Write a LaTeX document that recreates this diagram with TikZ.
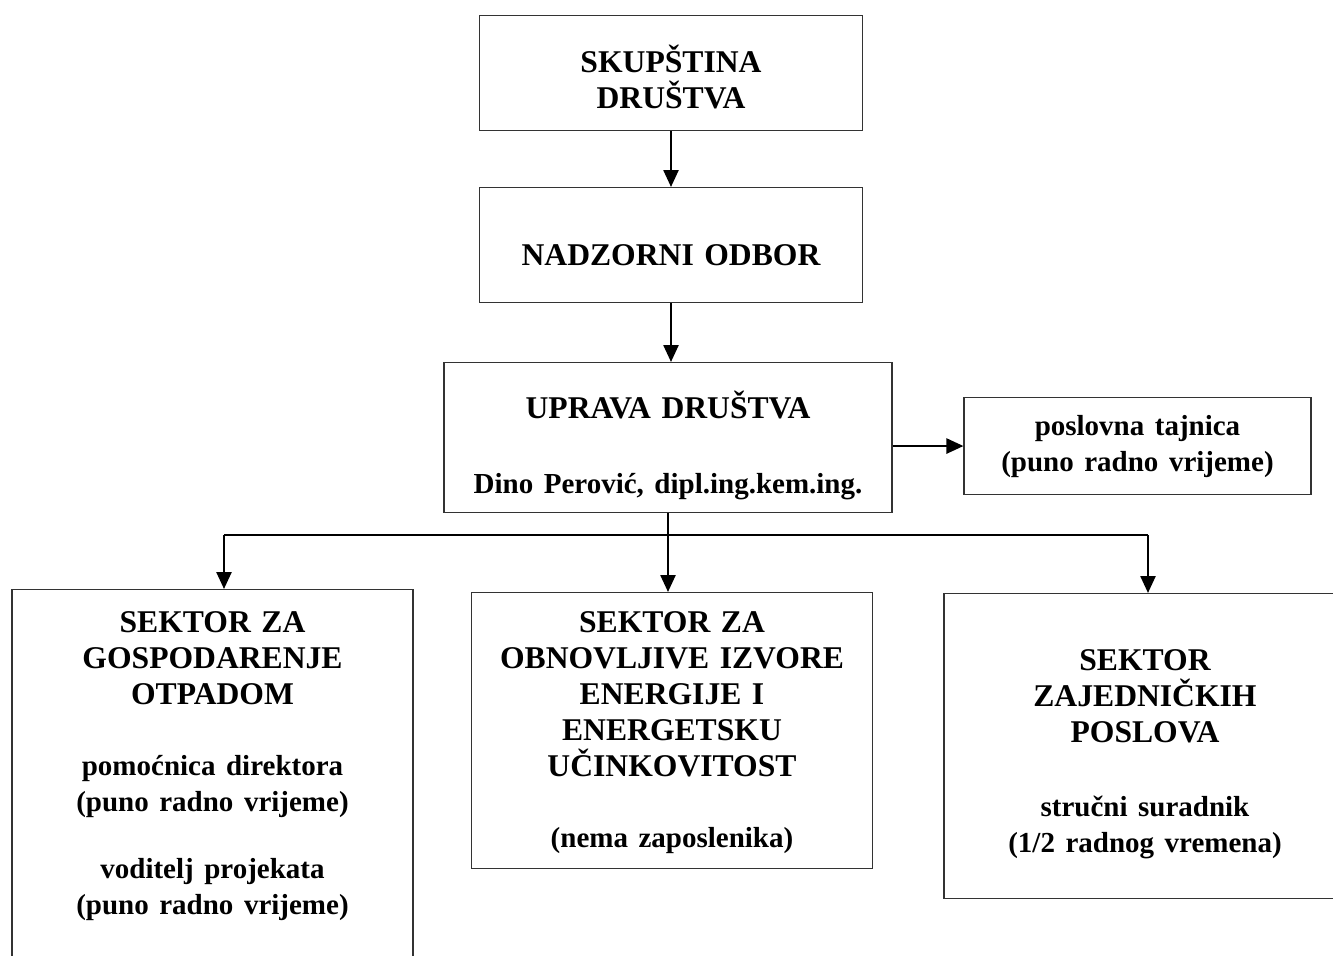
\documentclass[tikz,border=0pt]{standalone}
\usepackage{fontspec}
\setmainfont{Liberation Serif}
\usetikzlibrary{arrows.meta}

\newcommand\capsfont{\fontsize{18}{20.5}\selectfont}
\newcommand\lowfont{\fontsize{16.5}{20.5}\selectfont}

\begin{document}
\begin{tikzpicture}[
    box/.style={draw=black!80, line width=0.6pt, inner sep=0pt, anchor=north,
      align=center, font=\bfseries\capsfont},
    arr/.style={-{Triangle[length=0.34cm, width=0.3cm]}, line width=1.4pt},
    link/.style={line width=0.8pt}]
  \useasboundingbox (0,0) rectangle (26.66,-19.10);
  \clip (0,0) rectangle (26.66,-19.10);

  \node[box, text width=7.66cm, text height=1.14cm, text depth=1.16cm] (skupstina) at (13.42,-0.30) {SKUPŠTINA\\DRUŠTVA};
  \node[box, text width=7.66cm, text height=1.56cm, text depth=0.74cm] (nadzor) at (13.42,-3.74) {NADZORNI ODBOR};
  \node[box, text width=8.96cm, text height=1.12cm, text depth=1.88cm] (uprava) at (13.36,-7.24)
    {UPRAVA DRUŠTVA\\[22pt]\lowfont Dino Perović, dipl.ing.kem.ing.};
  \node[box, text width=6.94cm, text height=0.76cm, text depth=1.18cm] (tajnica) at (22.75,-7.94)
    {\lowfont poslovna tajnica\\(puno radno vrijeme)};

  \node[box, text width=8.02cm, text height=0.86cm, text depth=7.36cm] (otpad) at (4.25,-11.78)
    {SEKTOR ZA\\GOSPODARENJE\\OTPADOM\\[19.7pt]\lowfont pomoćnica direktora\\(puno radno vrijeme)\\[17.5pt]voditelj projekata\\(puno radno vrijeme)};
  \node[box, text width=8.02cm, text height=0.80cm, text depth=4.72cm] (izvori) at (13.44,-11.84)
    {SEKTOR ZA\\OBNOVLJIVE IZVORE\\ENERGIJE I\\ENERGETSKU\\UČINKOVITOST\\[19.7pt]\lowfont (nema zaposlenika)};
  \node[box, text width=8.04cm, text height=1.54cm, text depth=4.56cm] (zajednicki) at (22.90,-11.86)
    {SEKTOR\\ZAJEDNIČKIH\\POSLOVA\\[21.5pt]\lowfont stručni suradnik\\(1/2 radnog vremena)};

  \coordinate (busL) at (4.48,-10.70);
  \coordinate (busR) at (22.96,-10.70);

  \draw[arr] (skupstina.south) -- (nadzor.north);
  \draw[arr] (nadzor.south) -- (nadzor.south |- uprava.north);
  \draw[arr] (uprava.east |- tajnica.west) -- (tajnica.west);

  % grananje prema sektorima
  \draw[link] (uprava.south) -- (uprava.south |- busL);
  \draw[link] (busL) -- (busR);
  \draw[arr] (busL) -- (busL |- otpad.north);
  \draw[arr] (uprava.south |- busL) -- (uprava.south |- izvori.north);
  \draw[arr] (busR) -- (busR |- zajednicki.north);
\end{tikzpicture}
\end{document}
